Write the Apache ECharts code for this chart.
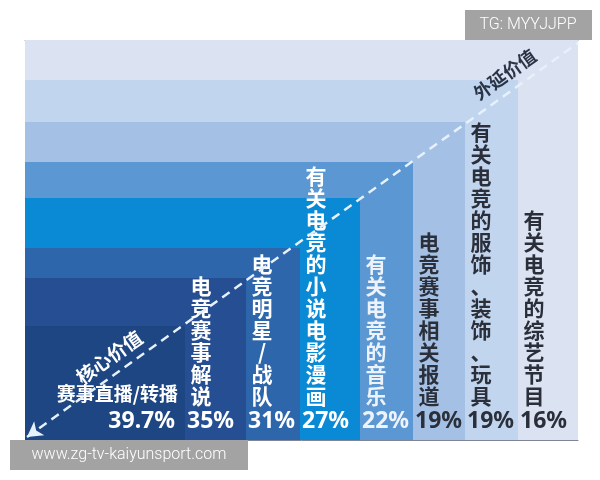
<!DOCTYPE html>
<html><head><meta charset="utf-8">
<script src="https://cdn.jsdelivr.net/npm/echarts@6/dist/echarts.min.js"></script>
<style>html,body{margin:0;padding:0;background:#fff}#c{width:600px;height:480px}</style>
</head><body><div id="c"></div>
<script>
// ---- data ----
const categories = ['赛事直播/转播','电竞赛事解说','电竞明星/战队','有关电竞的小说电影漫画','有关电竞的音乐','电竞赛事相关报道','有关电竞的服饰、装饰、玩具','有关电竞的综艺节目'];
const values = [39.7, 35, 31, 27, 22, 19, 19, 16];
// right edge of each nested block (x units) and its height level (y units, 0-100)
const edges = [160, 221, 275, 335, 388, 440, 493, 553];
const levels = [28.5, 40.5, 48, 60.5, 69.5, 79.5, 90, 100];
const arrowLine = [[2, 0.75], [553, 99.25]];
const lineLabels = ['核心价值', '外延价值'];

// ---- styles ----
const palette = ['#1e4682','#254f92','#2e66ab','#0a89d5','#5a97d3','#a4c1e5','#c1d6ee','#dbe2f1'];
const textColors = ['#ffffff','#ffffff','#ffffff','#ffffff','#eef3fb','#2b2f3a','#2b2f3a','#2b2f3a'];
const labelAt = [0.167, 0.885];
const labelColors = ['#ffffff', '#2a3446'];
const labelFonts = ['bold 19px "Noto Sans CJK SC"', 'bold 18px "Noto Sans CJK SC"'];

const chart = echarts.init(document.getElementById('c'), null, {renderer: 'canvas'});

const blockData = categories.map((c, i) => [i, edges[i], levels[i]]).reverse();
const labelData = categories.map((c, i) => [i, i === 0 ? 0 : edges[i - 1], edges[i]]);

chart.setOption({
  animation: false,
  backgroundColor: '#ffffff',
  grid: {left: 25, right: 22, top: 40, bottom: 40},
  xAxis: [
    {type: 'value', min: 0, max: 553, position: 'bottom',
     axisLine: {show: true, onZero: false, lineStyle: {color: '#7d8596', width: 1}},
     axisTick: {show: false}, axisLabel: {show: false}, splitLine: {show: false}},
    {type: 'value', min: 0, max: 553, position: 'top',
     axisLine: {show: true, onZero: false, lineStyle: {color: '#8a90a0', width: 1}},
     axisTick: {show: false}, axisLabel: {show: false}, splitLine: {show: false}}
  ],
  yAxis: {type: 'value', min: 0, max: 100, show: false, splitLine: {show: false}},
  series: [
    {
      type: 'custom', silent: true, z: 1,
      data: blockData,
      encode: {x: 1, y: 2},
      renderItem: function (params, api) {
        const i = api.value(0);
        const p0 = api.coord([0, 0]);
        const p1 = api.coord([api.value(1), api.value(2)]);
        return {type: 'rect', shape: {x: p0[0], y: p1[1], width: p1[0] - p0[0], height: p0[1] - p1[1]},
                style: {fill: palette[i]}};
      },
      markLine: {
        silent: true, animation: false,
        symbol: ['arrow', 'none'], symbolSize: [13, 15],
        lineStyle: {color: '#e6f1fb', type: [9, 6], width: 2.5},
        label: {show: false},
        emphasis: {disabled: true},
        data: [[{coord: arrowLine[0]}, {coord: arrowLine[1]}]]
      }
    },
    {
      type: 'custom', silent: true, z: 3,
      data: labelData,
      encode: {x: [1, 2]},
      renderItem: function (params, api) {
        const i = api.value(0);
        const left = api.coord([api.value(1), 0]);
        const right = api.coord([api.value(2), 0]);
        const base = left[1];
        const pct = values[i] + '%';
        const children = [];
        if (i === 0) {
          children.push({type: 'text', style: {text: categories[i], x: right[0] - 7, y: base - 46,
            align: 'right', textAlign: 'right', verticalAlign: 'middle', textVerticalAlign: 'middle',
            font: 'bold 19px "Noto Sans CJK SC"', fill: textColors[i]}});
          children.push({type: 'text', style: {text: pct, x: right[0] - 10, y: base - 19,
            align: 'right', textAlign: 'right', verticalAlign: 'middle', textVerticalAlign: 'middle',
            font: 'bold 23px "Noto Sans"', fill: textColors[i]}});
        } else {
          children.push({type: 'text', style: {text: categories[i].split('').join('\n'), x: left[0] + 16, y: base - 33,
            align: 'center', textAlign: 'center', verticalAlign: 'bottom', textVerticalAlign: 'bottom',
            lineHeight: 22, font: 'bold 21px "Noto Sans CJK SC"', fill: textColors[i]}});
          children.push({type: 'text', style: {text: pct, x: left[0] + 2, y: base - 19,
            align: 'left', textAlign: 'left', verticalAlign: 'middle', textVerticalAlign: 'middle',
            font: 'bold 23px "Noto Sans"', fill: textColors[i]}});
        }
        return {type: 'group', children: children};
      }
    },
    {
      type: 'custom', silent: true, z: 4,
      data: lineLabels.map((t, k) => [k]),
      encode: {x: 0},
      renderItem: function (params, api) {
        const k = api.value(0);
        const a = api.coord(arrowLine[0]);
        const b = api.coord(arrowLine[1]);
        const dx = b[0] - a[0], dy = b[1] - a[1];
        const len = Math.sqrt(dx * dx + dy * dy);
        const ux = dx / len, uy = dy / len;
        const nx = uy, ny = -ux; // normal pointing up-left
        const s = labelAt[k] * len;
        const cx = a[0] + ux * s + nx * 17;
        const cy = a[1] + uy * s + ny * 17;
        return {type: 'text', x: cx, y: cy, rotation: Math.atan2(-dy, dx),
          style: {text: lineLabels[k], x: 0, y: 0, align: 'center', textAlign: 'center',
            verticalAlign: 'middle', textVerticalAlign: 'middle', font: labelFonts[k], fill: labelColors[k]}};
      }
    }
  ],
  graphic: [
    {type: 'rect', left: 465, top: 10, shape: {width: 127, height: 30}, style: {fill: '#a3a3a3'}, z: 100},
    {type: 'text', x: 528, y: 25, style: {text: 'TG: MYYJJPP', align: 'center', verticalAlign: 'middle',
      textAlign: 'center', textVerticalAlign: 'middle', font: '300 16px Roboto', fill: '#ffffff'}, z: 101},
    {type: 'rect', left: 10, top: 440, shape: {width: 238, height: 30}, style: {fill: '#a3a3a3'}, z: 100},
    {type: 'text', x: 129, y: 455, style: {text: 'www.zg-tv-kaiyunsport.com', align: 'center', verticalAlign: 'middle',
      textAlign: 'center', textVerticalAlign: 'middle', font: '300 16px Roboto', fill: '#ffffff'}, z: 101}
  ]
});
</script>
</body></html>
